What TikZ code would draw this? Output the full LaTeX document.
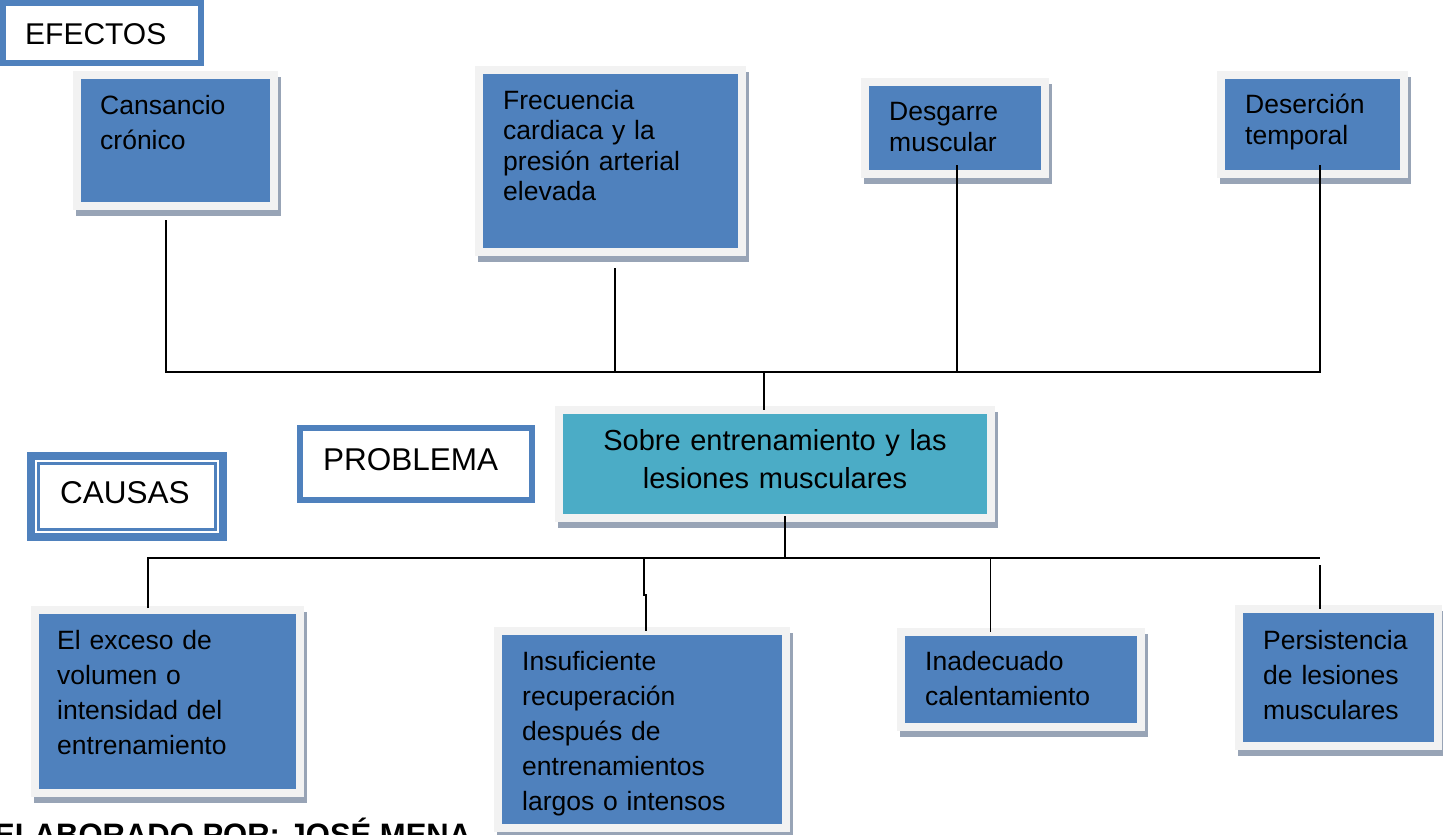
\documentclass[tikz,border=0pt]{standalone}
\usepackage{fontspec}
\setmainfont{Liberation Sans}
\usetikzlibrary{positioning}
\definecolor{cajaazul}{HTML}{4F81BD}
\definecolor{marco}{HTML}{F2F2F2}
\definecolor{sombra}{HTML}{98A4B6}
\definecolor{turquesa}{HTML}{4BACC6}

\begin{document}
\begin{tikzpicture}[x=1pt,y=-1pt,
    caja/.style={rectangle,fill=cajaazul,draw=marco,line width=8pt,outer sep=0pt,inner sep=0pt,
      preaction={draw=sombra,fill=sombra,line width=8pt,transform canvas={xshift=3pt,yshift=-6pt}}},
    texto/.style={anchor=base west,inner sep=0pt,text width=300pt,align=left,font=\fontsize{26.5}{35}\selectfont},
    apretado/.style={font=\fontsize{26.5}{#1}\selectfont},
    etiqueta/.style={rectangle,fill=white,draw=cajaazul,line width=6pt,outer sep=0pt,inner sep=0pt},
    rotulo/.style={anchor=base west,inner sep=0pt,font=\fontsize{31.5}{36}\selectfont},
    linea/.style={line width=1.8pt,black}]
  \useasboundingbox (0,0) rectangle (1443,835);
  %% efectos
  \node[etiqueta,minimum width=198pt,minimum height=60pt] (efectos) at (102,33) {};
  \node[rotulo,font=\fontsize{30}{36}\selectfont] (t-efectos) at (25,44) {EFECTOS};
  \node[caja,minimum width=197pt,minimum height=131pt] (cansancio) at (175.5,140.5) {};
  \node[caja,minimum width=263pt,minimum height=182pt] (frecuencia) at (610.5,161) {};
  \node[caja,minimum width=180pt,minimum height=92pt] (desgarre) at (955,128) {};
  \node[caja,minimum width=183pt,minimum height=99pt] (desercion) at (1312.5,124.5) {};
  \node[texto] (t-cansancio) at (100,114) {Cansancio\\crónico};
  \node[texto,apretado=30.5] (t-frecuencia) at (503,109) {Frecuencia\\cardiaca y la\\presión arterial\\elevada};
  \node[texto,apretado=31] (t-desgarre) at (889,120) {Desgarre\\muscular};
  \node[texto,apretado=31] (t-desercion) at (1245,113) {Deserción\\temporal};
  %% problema
  \node[etiqueta,minimum width=232pt,minimum height=72pt] (etq-problema) at (416,464) {};
  \node[rotulo] (t-etq-problema) at (323,470) {PROBLEMA};
  \node[caja,fill=turquesa,minimum width=432pt,minimum height=108pt] (problema) at (775,464) {};
  \node[anchor=base,inner sep=0pt,text width=420pt,align=center,font=\fontsize{29}{38}\selectfont] (t-problema) at (775,450) {Sobre entrenamiento y las\\lesiones musculares};
  %% causas
  \node[etiqueta,line width=8pt,minimum width=192pt,minimum height=81pt] (causas) at (127,496.5) {};
  \draw[cajaazul,line width=2.5pt] ([shift={(7.5,7.5)}]causas.north west) rectangle ([shift={(-7.5,-7.5)}]causas.south east);
  \node[rotulo] (t-causas) at (60,503) {CAUSAS};
  \node[caja,minimum width=265pt,minimum height=183pt] (exceso) at (167.5,701.5) {};
  \node[caja,minimum width=288pt,minimum height=197pt] (insuficiente) at (642,729.5) {};
  \node[caja,minimum width=240pt,minimum height=95pt] (inadecuado) at (1021,679.5) {};
  \node[caja,minimum width=199pt,minimum height=137pt] (persistencia) at (1338.5,677.5) {};
  \node[texto] (t-exceso) at (57,649) {El exceso de\\volumen o\\intensidad del\\entrenamiento};
  \begin{scope}
    \clip (502,600) rectangle (782,815);
    \node[texto] (t-insuficiente) at (522,670) {Insuficiente\\recuperación\\después de\\entrenamientos\\largos o intensos};
  \end{scope}
  \node[texto] (t-inadecuado) at (925,670) {Inadecuado\\calentamiento};
  \node[texto] (t-persistencia) at (1263,649) {Persistencia\\de lesiones\\musculares};
  %% conectores
  \coordinate (bus-efectos) at (764,372);
  \coordinate (bus-causas) at (785,558);
  \coordinate (fin-causas) at (1320,558);
  \draw[linea] ([shift={(-9.5,14)}]cansancio.south) |- (bus-efectos) -| ([shift={(7.5,-9)}]desercion.south);
  \draw[linea] ([shift={(4.5,16)}]frecuencia.south) -- ([xshift=4.5pt]frecuencia.south |- bus-efectos);
  \draw[linea] ([shift={(2,-9)}]desgarre.south) -- ([xshift=2pt]desgarre.south |- bus-efectos);
  \draw[linea] (bus-efectos) -- (bus-efectos |- problema.north);
  \draw[linea] ([shift={(10,-2)}]problema.south) -- (bus-causas);
  \draw[linea] ([shift={(-19.5,-2)}]exceso.north) |- (fin-causas);
  \draw[linea] ([xshift=2pt]insuficiente.north |- bus-causas) -- ++(0,37) -- ++(2,0) -- ([xshift=4pt]insuficiente.north);
  \draw[linea] ([xshift=-30.5pt]inadecuado.north |- bus-causas) -- ([xshift=-30.5pt]inadecuado.north);
  \draw[linea] ([shift={(0,7)}]fin-causas) -- (fin-causas |- persistencia.north);
  %% autor
  \node[anchor=base west,inner sep=0pt,font=\bfseries\fontsize{31}{36}\selectfont] (autor) at (-6,845) {ELABORADO POR: JOSÉ MENA};
\end{tikzpicture}
\end{document}
